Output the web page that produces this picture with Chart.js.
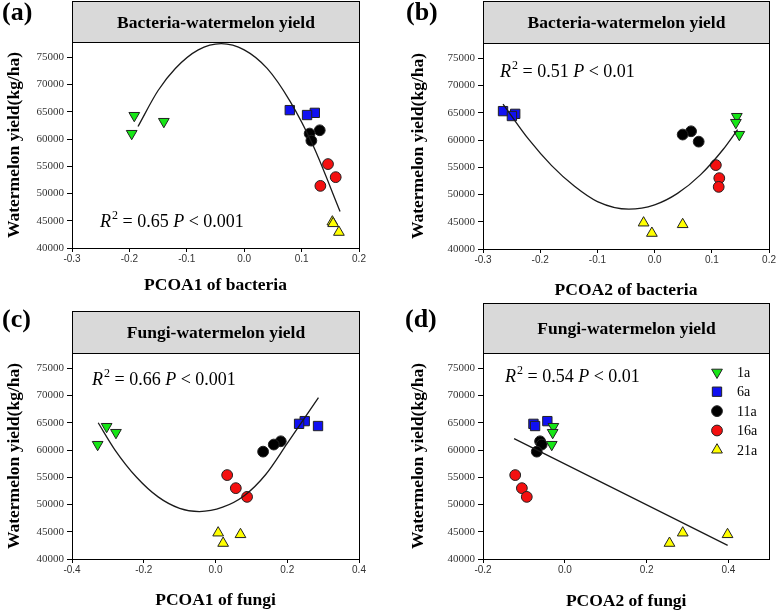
<!DOCTYPE html>
<html>
<head>
<meta charset="utf-8">
<script src="https://cdn.jsdelivr.net/npm/chart.js@4.4.0/dist/chart.umd.min.js"></script>
<style>
	body { margin: 0; background: #fff; }
	#wrap { position: relative; width: 777px; height: 611px; overflow: hidden; }
	canvas { position: absolute; }
</style>
</head>
<body>
<div id="wrap">
	<canvas id="panel-a" width="388" height="305" style="left:0;top:0;width:388px;height:305px"></canvas>
	<canvas id="panel-b" width="389" height="305" style="left:388px;top:0;width:389px;height:305px"></canvas>
	<canvas id="panel-c" width="388" height="311" style="left:0;top:300px;width:388px;height:311px"></canvas>
	<canvas id="panel-d" width="389" height="311" style="left:388px;top:300px;width:389px;height:311px"></canvas>
</div>
<script>
// groups (years of continuous cropping)
const groups = ['1a', '6a', '11a', '16a', '21a'];

// watermelon yield (kg/ha), 3 plots per group
const yield_1a = [64300, 63200, 61000];
const yield_6a = [65300, 64800, 64400];
const yield_11a = [61600, 61000, 59700];
const yield_16a = [55400, 53000, 51400];
const yield_21a = [44800, 42900, 44500];
const yields = [yield_1a, yield_6a, yield_11a, yield_16a, yield_21a];

// PCoA scores, same order as the yields above
const bac_pcoa1 = [
	[-0.1915, -0.140, -0.196],
	[0.0794, 0.123, 0.1095],
	[0.1316, 0.114, 0.117],
	[0.146, 0.1594, 0.1327],
	[0.1536, 0.165, 0.155]
];
const bac_pcoa2 = [
	[0.1437, 0.142, 0.148],
	[-0.265, -0.2437, -0.2495],
	[0.0637, 0.049, 0.077],
	[0.107, 0.113, 0.112],
	[-0.0193, -0.0048, 0.049]
];
const fun_pcoa1 = [
	[-0.3035, -0.2775, -0.3285],
	[0.2487, 0.233, 0.2858],
	[0.1819, 0.1624, 0.1327],
	[0.0325, 0.0566, 0.088],
	[0.0074, 0.0213, 0.0696]
];
const fun_pcoa2 = [
	[-0.028, -0.0297, -0.032],
	[-0.0427, -0.0767, -0.0727],
	[-0.0605, -0.0565, -0.0686],
	[-0.1213, -0.105, -0.093],
	[0.2882, 0.2558, 0.3977]
];

// fitted curves
const fit_a_x = [-0.185, -0.15, -0.12, -0.08, -0.04, 0.0, 0.04, 0.08, 0.12, 0.167];
const fit_a_y = [62300, 68900, 72950, 76360, 77500, 76360, 72950, 66900, 58800, 46700];
const fit_b_x = [-0.265, -0.22, -0.18, -0.14, -0.10, -0.045, 0.0, 0.04, 0.08, 0.12, 0.145];
const fit_b_y = [66600, 60100, 55300, 51500, 48700, 47300, 48100, 50200, 53600, 58300, 61900];
const fit_c_x = [-0.327, -0.28, -0.22, -0.16, -0.10, -0.045, 0.02, 0.08, 0.14, 0.20, 0.287];
const fit_c_y = [65000, 60000, 55000, 51400, 49300, 48700, 49500, 51600, 55500, 61200, 69600];
const fit_d_x = [-0.124, 0.398];
const fit_d_y = [62100, 42500];

// ticks
const y_ticks = [40000, 45000, 50000, 55000, 60000, 65000, 70000, 75000];
const x_ticks_a = [-0.3, -0.2, -0.1, 0.0, 0.1, 0.2];
const x_ticks_c = [-0.4, -0.2, 0.0, 0.2, 0.4];
const x_ticks_d = [-0.2, 0.0, 0.2, 0.4];

const colors = ['#16e616', '#1010f2', '#000000', '#f41010', '#ffff00'];
const styles = ['triangle', 'rect', 'circle', 'circle', 'triangle'];
const rotations = [180, 0, 0, 0, 0];
const radii = [6.2, 6.6, 5.4, 5.4, 6.2];

const SERIF = '"Liberation Serif", "Times New Roman", serif';
const SANS = '"Liberation Sans", Arial, sans-serif';

const draw_marker = (ctx, i, x, y) => {
	const r = radii[i];
	ctx.beginPath();
	if (styles[i] === 'circle') {
		ctx.arc(x, y, r, 0, Math.PI * 2);
	} else if (styles[i] === 'rect') {
		const s = r * Math.SQRT1_2;
		ctx.rect(x - s, y - s, 2 * s, 2 * s);
	} else {
		const dir = rotations[i] === 180 ? -1 : 1;
		ctx.moveTo(x, y - dir * r);
		ctx.lineTo(x + r * 0.866, y + dir * r * 0.5);
		ctx.lineTo(x - r * 0.866, y + dir * r * 0.5);
		ctx.closePath();
	}
	ctx.fillStyle = colors[i];
	ctx.fill();
	ctx.strokeStyle = '#222';
	ctx.lineWidth = 1;
	ctx.stroke();
};

const draw_stat = (ctx, x, y, r2, p) => {
	const size = 18;
	const reg = size + 'px ' + SERIF;
	const ita = 'italic ' + reg;
	ctx.fillStyle = '#000';
	ctx.textAlign = 'left';
	ctx.textBaseline = 'alphabetic';
	ctx.font = ita;
	ctx.fillText('R', x, y);
	x += ctx.measureText('R').width;
	ctx.font = '12px ' + SERIF;
	ctx.fillText('2', x + 1, y - 8);
	x += ctx.measureText('2').width + 1;
	ctx.font = reg;
	let s = ' = ' + r2 + ' ';
	ctx.fillText(s, x, y);
	x += ctx.measureText(s).width;
	ctx.font = ita;
	ctx.fillText('P', x, y);
	x += ctx.measureText('P').width;
	ctx.font = reg;
	ctx.fillText(' < ' + p, x, y);
};

const panel_decor = {
	id: 'panelDecor',
	afterDraw(chart, args, opts) {
		const ctx = chart.ctx;
		const a = chart.chartArea;
		const l = Math.round(a.left) + 0.5, r = Math.round(a.right) + 0.5;
		const t = Math.round(a.top) + 0.5, b = Math.round(a.bottom) + 0.5;
		const h = opts.headerTop + 0.5;
		ctx.save();
		// header box
		ctx.fillStyle = '#d9d9d9';
		ctx.fillRect(l, h, r - l, t - h);
		ctx.strokeStyle = '#000';
		ctx.lineWidth = 1;
		ctx.strokeRect(l, h, r - l, t - h);
		ctx.strokeRect(l, t, r - l, b - t);
		ctx.fillStyle = '#000';
		ctx.font = 'bold 17.5px ' + SERIF;
		ctx.textAlign = 'center';
		ctx.textBaseline = 'middle';
		ctx.fillText(opts.header, (l + r) / 2, (h + t) / 2 + 1);
		// panel letter
		ctx.font = 'bold 26px ' + SERIF;
		ctx.textAlign = 'left';
		ctx.fillText(opts.label, opts.labelX, opts.labelY);
		draw_stat(ctx, opts.statX, opts.statY, opts.r2, opts.p);
		if (opts.legend) {
			groups.forEach((g, i) => {
				const y = opts.legendY + i * 19.4;
				draw_marker(ctx, i, opts.legendX, y);
				ctx.fillStyle = '#000';
				ctx.font = '14px ' + SERIF;
				ctx.textAlign = 'left';
				ctx.textBaseline = 'middle';
				ctx.fillText(g, opts.legendX + 20, y + 1);
			});
		}
		ctx.restore();
	}
};

const make_panel = (p) => {
	const canvas = document.getElementById(p.id);
	const W = canvas.width, H = canvas.height;
	let datasets = [{
		label: 'fit',
		data: p.fitX.map((x, i) => ({x: x, y: p.fitY[i]})),
		showLine: true,
		borderColor: '#1a1a1a',
		borderWidth: 1.3,
		pointRadius: 0,
		cubicInterpolationMode: 'monotone',
		fill: false
	}];
	groups.forEach((g, i) => {
		datasets.push({
			label: g,
			data: p.xs[i].map((x, j) => ({x: x, y: yields[i][j]})),
			pointStyle: styles[i],
			rotation: rotations[i],
			pointRadius: radii[i],
			backgroundColor: colors[i],
			borderColor: '#222',
			borderWidth: 1
		});
	});

	new Chart(canvas, {
		type: 'scatter',
		data: { datasets: datasets },
		options: {
			responsive: false,
			animation: false,
			devicePixelRatio: 1,
			events: [],
			layout: { padding: { left: 0, right: W - p.area.right, top: p.area.top, bottom: 0 } },
			scales: {
				x: {
					type: 'linear',
					min: p.xMin,
					max: p.xMax,
					afterBuildTicks: s => { s.ticks = p.xTicks.map(v => ({value: v})); },
					afterFit: s => { s.height = H - p.area.bottom; },
					ticks: {
						callback: v => v.toFixed(1),
						font: { family: SANS, size: 10 },
						color: '#333',
						padding: 1,
						maxRotation: 0,
						autoSkip: false
					},
					grid: { drawOnChartArea: false, tickLength: 4, color: '#000' },
					border: { color: '#000', width: 1 },
					title: {
						display: true,
						text: p.xTitle,
						color: '#000',
						font: { family: SERIF, size: 17.5, weight: 'bold', lineHeight: 1 },
						padding: { top: 0, bottom: p.xTitlePad }
					}
				},
				y: {
					type: 'linear',
					min: 40000,
					max: 77800,
					afterBuildTicks: s => { s.ticks = y_ticks.map(v => ({value: v})); },
					afterFit: s => { s.width = p.area.left; },
					ticks: {
						callback: v => String(v),
						font: { family: SERIF, size: 11 },
						color: '#333',
						padding: 3,
						autoSkip: false
					},
					grid: { drawOnChartArea: false, tickLength: 5, color: '#000' },
					border: { color: '#000', width: 1 },
					title: {
						display: true,
						text: 'Watermelon yield(kg/ha)',
						color: '#000',
						font: { family: SERIF, size: 17.5, weight: 'bold', lineHeight: 1 },
						padding: { top: p.yTitlePad, bottom: 0 }
					}
				}
			},
			plugins: {
				legend: { display: false },
				tooltip: { enabled: false },
				panelDecor: p.decor
			}
		},
		plugins: [panel_decor]
	});
};

make_panel({
	id: 'panel-a', xs: bac_pcoa1, fitX: fit_a_x, fitY: fit_a_y,
	xMin: -0.3, xMax: 0.2, xTicks: x_ticks_a,
	xTitle: 'PCOA1 of bacteria', xTitlePad: 10.5, yTitlePad: 6.2,
	area: { left: 72, right: 359, top: 42, bottom: 248 },
	decor: { header: 'Bacteria-watermelon yield', headerTop: 1, label: '(a)', labelX: 2, labelY: 13,
		statX: 100, statY: 227, r2: '0.65', p: '0.001', legend: false }
});
make_panel({
	id: 'panel-b', xs: bac_pcoa2, fitX: fit_b_x, fitY: fit_b_y,
	xMin: -0.3, xMax: 0.2, xTicks: x_ticks_a,
	xTitle: 'PCOA2 of bacteria', xTitlePad: 5.5, yTitlePad: 21.5,
	area: { left: 95, right: 382, top: 43, bottom: 249 },
	decor: { header: 'Bacteria-watermelon yield', headerTop: 1, label: '(b)', labelX: 18, labelY: 13,
		statX: 112, statY: 77, r2: '0.51', p: '0.01', legend: false }
});
make_panel({
	id: 'panel-c', xs: fun_pcoa1, fitX: fit_c_x, fitY: fit_c_y,
	xMin: -0.4, xMax: 0.4, xTicks: x_ticks_c,
	xTitle: 'PCOA1 of fungi', xTitlePad: 2.2, yTitlePad: 6.2,
	area: { left: 72, right: 359, top: 53, bottom: 259 },
	decor: { header: 'Fungi-watermelon yield', headerTop: 11, label: '(c)', labelX: 2, labelY: 20,
		statX: 92, statY: 85, r2: '0.66', p: '0.001', legend: false }
});
make_panel({
	id: 'panel-d', xs: fun_pcoa2, fitX: fit_d_x, fitY: fit_d_y,
	xMin: -0.2, xMax: 0.5, xTicks: x_ticks_d,
	xTitle: 'PCOA2 of fungi', xTitlePad: 0.5, yTitlePad: 21.5,
	area: { left: 95, right: 382, top: 53, bottom: 259 },
	decor: { header: 'Fungi-watermelon yield', headerTop: 3, label: '(d)', labelX: 17, labelY: 20,
		statX: 117, statY: 82, r2: '0.54', p: '0.01', legend: true, legendX: 329, legendY: 72.3 }
});
</script>
</body>
</html>
